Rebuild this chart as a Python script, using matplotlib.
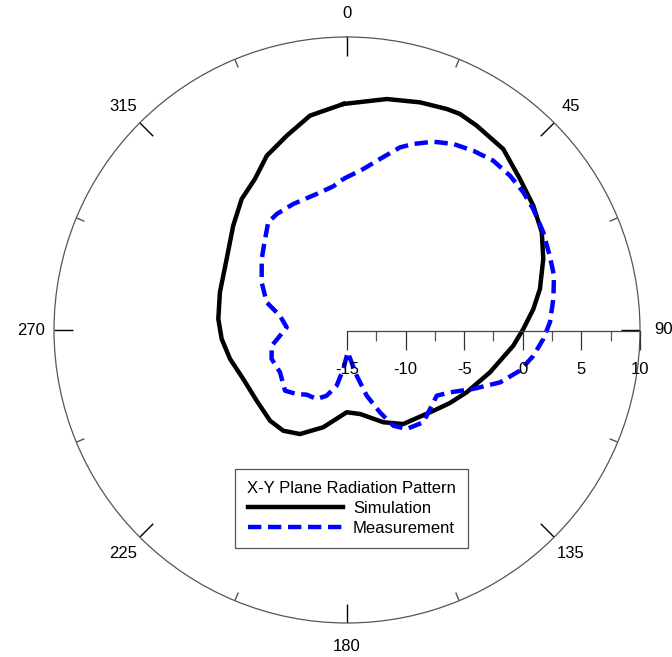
import numpy as np
import matplotlib
matplotlib.use("Agg")
import matplotlib.pyplot as plt

plt.rcParams['font.family'] = ['Liberation Sans', 'DejaVu Sans']

# --- Data (angle in degrees clockwise from top, gain in dB) ---
sim_angle = [-0.9, 9.8, 17.8, 24.3, 27.6, 32.4, 40.8, 48.9, 56.3, 63.4, 70.1,
             78.0, 83.6, 89.7, 95.4, 106.5, 117.5, 125.3, 131.8, 149.1, 158.5,
             171.2, 180.2, 193.7, 204.3, 212.3, 220.3, 231.9, 244.7, 256.1,
             265.9, 274.9, 286.5, 300.5, 312.5, 321.2, 328.6, 335.3, 342.8,
             350.2, 359.1]
sim_gain = [4.29, 5.0, 5.40, 5.69, 5.80, 5.65, 5.40, 4.59, 4.11, 3.59, 2.81,
            1.83, 1.0, 0.04, -0.75, -2.28, -3.49, -4.23, -4.81, -5.65, -6.54,
            -7.75, -7.98, -6.46, -5.26, -4.83, -4.85, -5.21, -5.21, -4.72,
            -4.28, -3.98, -3.69, -3.08, -1.83, -0.66, 0.09, 1.37, 2.36,
            3.56, 4.29]

meas_angle = [-1.4, 5.8, 10.9, 16.2, 19.6, 24.6, 29.7, 35.2, 40.8, 46.6,
              52.0, 57.0, 63.5, 70.2, 75.3, 81.5, 87.8, 92.6, 97.9, 103.2,
              108.9, 115.0, 121.2, 126.2, 133.6, 140.4, 148.9, 154.2, 158.2, 163.3,
              168.0, 178.2, 185.4, 190.5, 197.2, 203.7, 211.9, 218.2, 225.6, 237.7,
              249.1, 258.2, 265.1, 272.6, 282.0, 289.0, 299.2, 309.8, 318.0, 323.8,
              328.8, 336.9, 347.4, 354.6, 358.6]
meas_gain = [-2.11, -1.19, -0.14, 1.23, 1.85, 2.67, 3.28, 3.71, 4.09, 4.15,
             4.09, 3.95, 3.71, 3.41, 3.26, 2.80, 2.33, 1.77, 1.05, 0.16,
             -1.2, -3.11, -4.73, -5.51, -5.22, -4.78, -5.14, -5.93, -7.43, -9.15,
             -11.02, -13.1, -11.66, -10.17, -9.13, -8.57, -8.5, -8.05, -7.6, -8.24,
             -8.11, -8.44, -9.26, -9.85, -9.15, -7.75, -6.66, -5.53, -4.55, -3.62,
             -3.43, -3.31, -3.11, -2.68, -2.11]

r_min, r_max = -15, 10
ang_ticks = [0, 45, 90, 135, 180, 225, 270, 315]
ang_minor = [22.5, 67.5, 112.5, 157.5, 202.5, 247.5, 292.5, 337.5]
r_ticks = [-15, -10, -5, 0, 5, 10]
r_minor = [-12.5, -7.5, -2.5, 2.5, 7.5]

fig = plt.figure(figsize=(6.72, 6.57), dpi=100)
ax = fig.add_axes([54 / 672, 34 / 657, 586 / 672, 586 / 657], projection='polar')
ax.set_theta_zero_location('N')
ax.set_theta_direction(-1)
ax.set_ylim(r_min, r_max)

ax.plot(np.deg2rad(sim_angle), sim_gain, color='black', lw=3.2,
        label='Simulation')
ax.plot(np.deg2rad(meas_angle), meas_gain, color='blue', lw=3.2,
        dashes=(3.0, 1.5), label='Measurement')

# Angular axis: labels outside, ticks drawn inward from the rim
ax.grid(False)
ax.set_xticks([])
ax.set_yticks([])
ax.spines['polar'].set_color('#555555')
ax.spines['polar'].set_linewidth(0.9)
ax.vlines(np.deg2rad(ang_ticks), r_max - 1.62, r_max, color='black', lw=1.0)
ax.vlines(np.deg2rad(ang_minor), r_max - 0.75, r_max, color='#555555', lw=1.0)
for a in ang_ticks:
    ax.text(np.deg2rad(a), r_max + 1.97, str(a), fontsize=12,
            ha='center', va='center', clip_on=False)

# Radial axis drawn as a flat cartesian axis from the centre to the right edge
c_x, c_y = 347 / 672, 1 - 331 / 657
rax = fig.add_axes([c_x, c_y, 293 / 672, 0.0001])
rax.set_xlim(r_min, r_max)
rax.patch.set_visible(False)
for s in ['left', 'right', 'top']:
    rax.spines[s].set_visible(False)
rax.spines['bottom'].set_color('#444444')
rax.spines['bottom'].set_linewidth(0.9)
rax.set_xticks(r_ticks)
rax.set_xticks(r_minor, minor=True)
rax.set_xticklabels([str(v) for v in r_ticks], fontsize=12)
rax.tick_params(axis='x', which='major', direction='out', length=13.5,
                width=0.9, color='#333333', pad=9)
rax.tick_params(axis='x', which='minor', direction='out', length=7,
                width=0.9, color='#555555')
rax.set_yticks([])

leg = fig.legend(loc='center', bbox_to_anchor=(0.523, 0.226),
                 title='X-Y Plane Radiation Pattern', fontsize=12,
                 title_fontsize=12, handlelength=5.7, fancybox=False,
                 edgecolor='#555555', framealpha=1, borderpad=0.7,
                 labelspacing=0.3, handletextpad=0.6)
leg.get_frame().set_linewidth(0.9)

fig.savefig('out.png', dpi=100)
